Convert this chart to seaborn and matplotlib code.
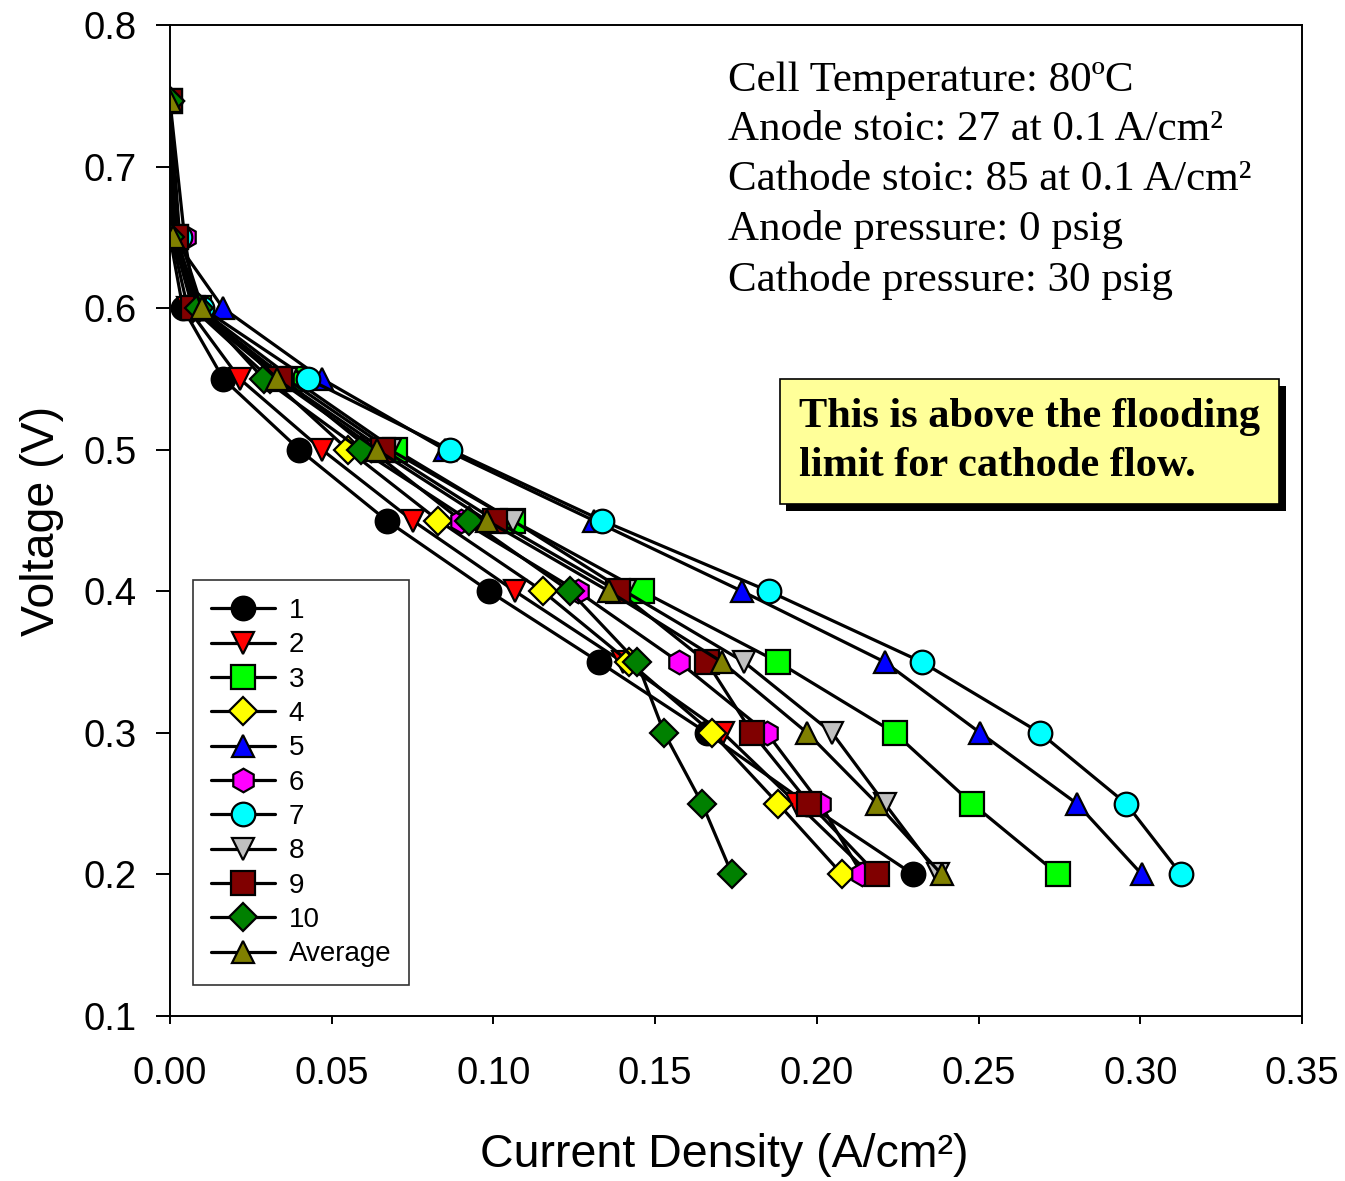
import matplotlib
matplotlib.use("Agg")
import matplotlib.pyplot as plt
import matplotlib.patheffects as pe
import seaborn as sns
import pandas as pd

# Voltage levels shared by every run (V)
voltage = [0.746, 0.65, 0.60, 0.55, 0.50, 0.45, 0.40, 0.35, 0.30, 0.25, 0.20]

# Current density for each run (A/cm2)
run_1 = [0.0, 0.000, 0.004, 0.0165, 0.040, 0.067, 0.0987, 0.1327, 0.166, 0.197, 0.2298]
run_2 = [0.0, 0.0005, 0.0055, 0.0216, 0.047, 0.075, 0.1067, 0.140, 0.171, 0.1938, 0.2165]
run_3 = [0.0, 0.002, 0.009, 0.038, 0.0696, 0.106, 0.146, 0.188, 0.224, 0.248, 0.2746]
run_4 = [0.0, 0.001, 0.007, 0.031, 0.055, 0.083, 0.1153, 0.142, 0.1676, 0.188, 0.2078]
run_5 = [0.0, 0.001, 0.0164, 0.047, 0.085, 0.131, 0.1769, 0.221, 0.2505, 0.2804, 0.3005]
run_6 = [0.0, 0.0045, 0.008, 0.035, 0.062, 0.090, 0.126, 0.1574, 0.1845, 0.201, 0.214]
run_7 = [0.0, 0.003, 0.010, 0.0427, 0.0866, 0.1336, 0.1852, 0.2325, 0.269, 0.2956, 0.3126]
run_8 = [0.0, 0.002, 0.008, 0.036, 0.068, 0.106, 0.1407, 0.1775, 0.2047, 0.221, 0.2375]
run_9 = [0.0, 0.002, 0.007, 0.034, 0.066, 0.1005, 0.1385, 0.166, 0.180, 0.1977, 0.2186]
run_10 = [0.0, 0.000, 0.009, 0.029, 0.059, 0.0925, 0.1237, 0.1444, 0.1528, 0.1645, 0.1738]
average = [0.0, 0.001, 0.010, 0.033, 0.064, 0.098, 0.1357, 0.1707, 0.197, 0.2186, 0.2386]

labels = ["1", "2", "3", "4", "5", "6", "7", "8", "9", "10", "Average"]
runs = [run_1, run_2, run_3, run_4, run_5, run_6, run_7, run_8, run_9, run_10, average]
markers = ["o", "v", "s", "D", "^", "h", "o", "v", "s", "D", "^"]
face_colors = ["#000000", "#ff0000", "#00ff00", "#ffff00", "#0000ff", "#ff00ff",
               "#00ffff", "#c0c0c0", "#800000", "#008000", "#808000"]

info_lines = ["Cell Temperature: 80\u00baC",
              "Anode stoic: 27 at 0.1 A/cm\u00b2",
              "Cathode stoic: 85 at 0.1 A/cm\u00b2",
              "Anode pressure: 0 psig",
              "Cathode pressure: 30 psig"]
note_text = "This is above the flooding\nlimit for cathode flow."

sns.set_theme(style="white")
plt.rcParams["font.family"] = ["Liberation Sans", "DejaVu Sans"]
plt.rcParams["text.color"] = "black"
plt.rcParams["axes.labelcolor"] = "black"

fig = plt.figure(figsize=(13.45, 11.81), dpi=100)
ax = fig.add_axes([0.1264, 0.1397, 0.8417, 0.8391])

# Draw each run as a black line with coloured markers
for lab, xs, mk, fc in zip(labels, runs, markers, face_colors):
    df = pd.DataFrame({"current": xs, "voltage": voltage})
    ms = 17 if mk in ("o", "s", "h") else 16
    if mk == "D":
        ms = 14
    sns.lineplot(data=df, x="current", y="voltage", ax=ax, sort=False,
                 estimator=None, color="black", lw=2.3, marker=mk,
                 markersize=ms, markerfacecolor=fc, markeredgecolor="black",
                 mew=1.6, label=lab)

ax.set_xlim(0, 0.35)
ax.set_ylim(0.1, 0.8)
ax.set_xticks([0.0, 0.05, 0.10, 0.15, 0.20, 0.25, 0.30, 0.35])
ax.set_xticklabels(["0.00", "0.05", "0.10", "0.15", "0.20", "0.25", "0.30", "0.35"])
ax.set_yticks([0.1, 0.2, 0.3, 0.4, 0.5, 0.6, 0.7, 0.8])
ax.set_yticklabels(["0.1", "0.2", "0.3", "0.4", "0.5", "0.6", "0.7", "0.8"])

for sp in ax.spines.values():
    sp.set_color("black")
    sp.set_linewidth(1.4)

ax.tick_params(axis="y", direction="out", length=10, width=1.4, pad=14,
               labelsize=27.5, colors="black", left=True)
ax.tick_params(axis="x", direction="out", length=6, width=1.4, pad=23,
               labelsize=27.5, colors="black", bottom=True)

ax.set_xlabel("Current Density (A/cm\u00b2)", fontsize=33.5)
ax.xaxis.set_label_coords(0.49, -0.118)
ax.xaxis.label.set_va("top")
ax.set_ylabel("Voltage (V)", fontsize=33.5, labelpad=14)

leg = ax.legend(loc="lower left", bbox_to_anchor=(0.02, 0.031),
                borderaxespad=0, fontsize=20, frameon=True, fancybox=False,
                edgecolor="#333333", framealpha=1, labelspacing=0.3,
                handlelength=2.3, handletextpad=0.5, borderpad=0.65)
leg.get_frame().set_linewidth(1.2)

# Operating conditions
ax.text(0.1725, 0.7745, "\n".join(info_lines), fontsize=31,
        family=["Liberation Serif", "DejaVu Serif"], va="top", ha="left",
        linespacing=1.38)

# Highlighted note with drop shadow
note = ax.text(0.2656, 0.506, note_text, fontsize=30.5, fontweight="bold",
               family=["Liberation Serif", "DejaVu Serif"], ha="center",
               va="center", multialignment="left", linespacing=1.38,
               bbox=dict(boxstyle="square,pad=0.45", facecolor="#ffff99",
                         edgecolor="black", linewidth=1.2))
note.get_bbox_patch().set_path_effects([
    pe.SimplePatchShadow(offset=(5, -5), shadow_rgbFace="black", alpha=1.0),
    pe.Normal()])

fig.savefig("out.png", dpi=100)
